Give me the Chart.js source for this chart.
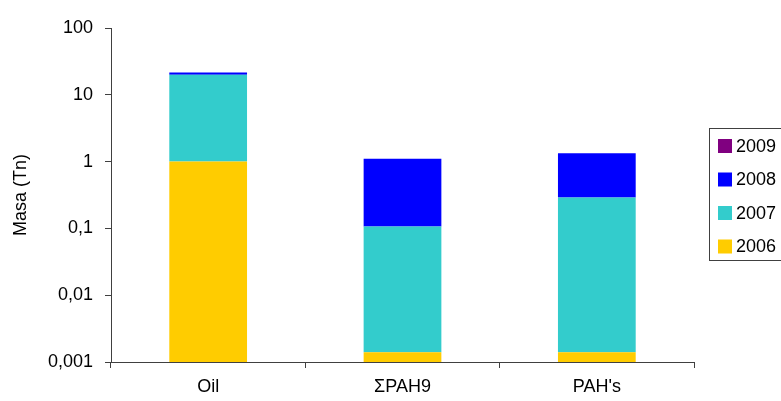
<!DOCTYPE html>
<html lang="es">
<head>
    <meta charset="UTF-8">
    <title>Masa (Tn)</title>
    <style>
        html, body { margin: 0; padding: 0; background: #fff; }
        #chartBox { width: 781px; height: 401px; }
    </style>
</head>
<body>
    <div id="chartBox">
        <canvas id="barChart" width="781" height="401"></canvas>
    </div>
    <script src="https://cdn.jsdelivr.net/npm/chart.js"></script>
    <script>
        // Data
        const categories = ['Oil', 'ΣPAH9', "PAH's"];
        const years = ['2006', '2007', '2008', '2009'];
        const values2006 = [1.0, 0.0014, 0.0014];
        const values2007 = [19.0, 0.105, 0.288];
        const values2008 = [1.5, 1.0, 1.04];
        const values2009 = [0, 0, 0];
        const yearColors = ['#FFCC00', '#33CCCC', '#0000FF', '#800080'];
        const yTicks = [0.001, 0.01, 0.1, 1, 10, 100];
        const yTickLabels = ['0,001', '0,01', '0,1', '1', '10', '100'];

        const axisColor = '#404040';
        const fontFamily = "'Liberation Sans', Arial, sans-serif";
        Chart.defaults.font.family = fontFamily;
        Chart.defaults.font.size = 18;
        Chart.defaults.color = '#000';

        // Legend drawn by hand, box partly outside the canvas like the original
        const sideLegend = {
            id: 'sideLegend',
            afterDraw(chart) {
                const ctx = chart.ctx;
                const sets = chart.data.datasets.slice().reverse();
                ctx.save();
                ctx.strokeStyle = axisColor;
                ctx.lineWidth = 1;
                ctx.strokeRect(709.5, 128.5, 120, 132);
                ctx.font = '18px ' + fontFamily;
                ctx.textBaseline = 'middle';
                ctx.textAlign = 'left';
                sets.forEach((ds, i) => {
                    const cy = 146 + i * 33.5;
                    ctx.fillStyle = ds.backgroundColor;
                    ctx.fillRect(718, cy - 7, 14, 14);
                    ctx.fillStyle = '#000';
                    ctx.fillText(ds.label, 736, cy + 1);
                });
                ctx.restore();
            }
        };

        const seriesValues = [values2006, values2007, values2008, values2009];

        const chartContext = document.getElementById('barChart').getContext('2d');
        const barChart = new Chart(chartContext, {
            type: 'bar',
            data: {
                labels: categories,
                datasets: years.map((y, i) => ({
                    label: y,
                    data: seriesValues[i],
                    backgroundColor: yearColors[i],
                    borderWidth: 0,
                    categoryPercentage: 1.0,
                    barPercentage: 0.4
                }))
            },
            options: {
                responsive: false,
                animation: false,
                layout: { padding: { top: 28, right: 87, bottom: 0, left: 0 } },
                plugins: {
                    legend: { display: false },
                    tooltip: { enabled: false }
                },
                scales: {
                    x: {
                        stacked: true,
                        afterFit: (s) => { s.height = 39; },
                        grid: {
                            offset: true,
                            drawOnChartArea: false,
                            drawTicks: true,
                            tickLength: 6,
                            color: axisColor
                        },
                        border: { color: axisColor },
                        ticks: { padding: 8, font: { size: 18 } }
                    },
                    y: {
                        type: 'logarithmic',
                        stacked: true,
                        min: 0.001,
                        max: 100,
                        afterFit: (s) => { s.width = 111; },
                        afterBuildTicks: (s) => { s.ticks = yTicks.map(v => ({ value: v })); },
                        grid: {
                            drawOnChartArea: false,
                            drawTicks: true,
                            tickLength: 6,
                            color: axisColor
                        },
                        border: { color: axisColor },
                        ticks: {
                            padding: 12,
                            font: { size: 18 },
                            callback: (v) => {
                                const k = yTicks.indexOf(v);
                                return k >= 0 ? yTickLabels[k] : '';
                            }
                        },
                        title: {
                            display: true,
                            text: 'Masa (Tn)',
                            font: { size: 18 },
                            padding: { top: 10, bottom: 4 }
                        }
                    }
                }
            },
            plugins: [sideLegend]
        });
    </script>
</body>
</html>
